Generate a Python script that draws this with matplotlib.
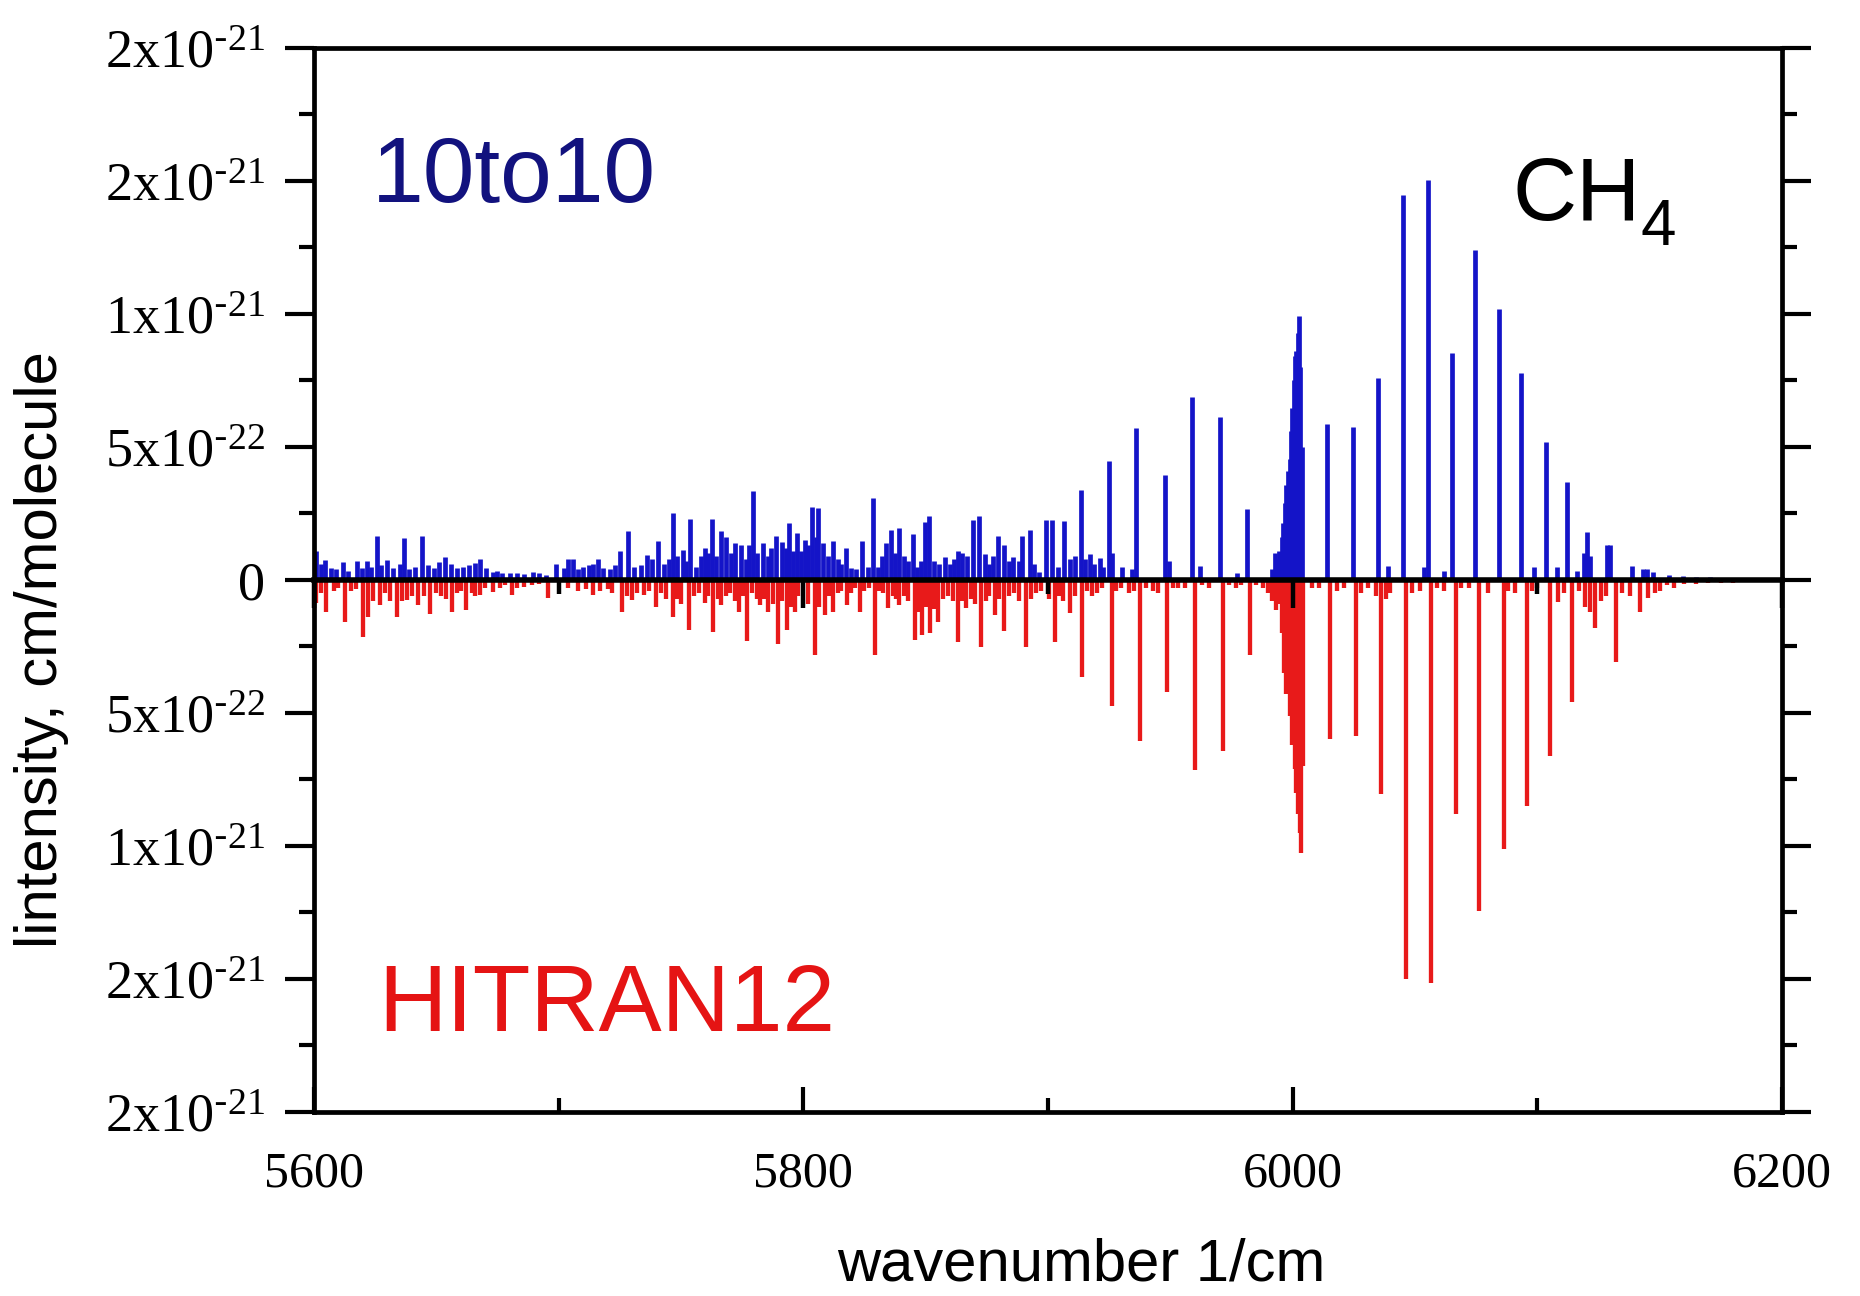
import matplotlib
matplotlib.use('Agg')
import matplotlib.pyplot as plt
from matplotlib.ticker import MultipleLocator, FixedLocator
import numpy as np

plt.rcParams['font.family'] = 'Liberation Serif'
plt.rcParams['mathtext.default'] = 'regular'

# line positions (1/cm) and intensities (1e-22 cm/molecule)
blue_wn = [5601, 5603, 5604.5, 5607, 5609, 5611.7, 5614, 5617.7, 5619.5, 5621.5, 5623.5, 5625.6, 5627.5, 5630,
           5632.5, 5635, 5636.8, 5639, 5641.5, 5644, 5646.5, 5649, 5651, 5653.5, 5656, 5658.5, 5661, 5663.5,
           5666, 5668, 5670.5, 5673, 5674.7, 5677, 5680, 5683, 5686, 5689.6, 5692, 5695, 5699, 5702, 5704,
           5706, 5708, 5710, 5712.5, 5714, 5716, 5718, 5721, 5723, 5725, 5728.4, 5731, 5733.5, 5736, 5738,
           5740.7, 5743, 5745, 5746.8, 5748.5, 5750.7, 5752, 5753.7, 5756, 5758, 5759.8, 5761, 5762.5,
           5764.5, 5766.2, 5768.6, 5770.5, 5772, 5774.4, 5776.5, 5778, 5779.3, 5781, 5783.6, 5785.5, 5787,
           5789, 5791.5, 5793, 5794.2, 5796, 5797.5, 5799, 5800.6, 5802, 5803.4, 5805, 5806.1, 5808, 5810,
           5812, 5814, 5815.5, 5817.3, 5819.5, 5821.5, 5824.2, 5826.5, 5828.6, 5830.5, 5832, 5834, 5835.8,
           5837.5, 5839, 5841, 5843, 5844.7, 5846.5, 5848, 5849.7, 5851.5, 5853.5, 5855.5, 5857.9, 5860,
           5861.5, 5863.3, 5865, 5867, 5869.4, 5871.9, 5874.2, 5876, 5877.5, 5879.4, 5882, 5884, 5885.8,
           5888, 5889.6, 5892.6, 5894.5, 5896.5, 5899.4, 5901.8, 5904, 5906.6, 5909, 5911, 5913.4, 5915,
           5917, 5919, 5921.2, 5922.5, 5924.9, 5926.3, 5930.4, 5934.4, 5936.1, 5947.7, 5949.4, 5959, 5962.3,
           5970.4, 5977.2, 5981.5,
           5991.5, 5992.7, 5993.5, 5994.5, 5995.5, 5996.1, 5996.8, 5997.5, 5998.2, 5998.8, 5999.4, 5999.9,
           6000.5, 6001, 6001.6, 6002.1, 6002.6, 6003.2, 6003.7,
           6014.2, 6024.7, 6034.9, 6038.9, 6045, 6053.8, 6055.2, 6062, 6065, 6074.7, 6084.4, 6093.4, 6098.6,
           6103.4, 6108, 6112.2, 6116.2, 6119, 6120.3, 6121.5, 6128.5, 6129.8, 6138.6, 6143.4, 6144.7,
           6147.5, 6154, 6159.6, 6165, 6170.5, 6177, 6184, 6191]
blue_int = [1.07, 0.6, 0.75, 0.45, 0.4, 0.69, 0.35, 0.72, 0.45, 0.72, 0.5, 1.67, 0.55, 0.75,
            0.45, 0.6, 1.57, 0.4, 0.5, 1.67, 0.55, 0.45, 0.69, 0.87, 0.6, 0.45, 0.5, 0.55,
            0.65, 0.79, 0.45, 0.3, 0.34, 0.25, 0.28, 0.25, 0.22, 0.31, 0.25, 0.2, 0.59, 0.45, 0.79,
            0.79, 0.4, 0.5, 0.55, 0.6, 0.78, 0.45, 0.4, 0.55, 1.09, 1.85, 0.5, 0.55, 0.94, 0.8,
            1.45, 0.6, 0.8, 2.52, 0.9, 1.13, 0.7, 2.30, 0.5, 0.9, 1.19, 1.0, 2.30,
            0.9, 1.85, 1.6, 1.0, 1.38, 1.32, 0.8, 1.3, 3.33, 1.0, 1.38, 0.9, 1.2,
            1.64, 1.42, 1.2, 2.14, 1.1, 1.76, 1.1, 1.51, 1.3, 2.73, 1.6, 2.70, 1.4, 0.9,
            1.47, 0.8, 0.6, 1.22, 0.45, 0.4, 1.47, 0.5, 3.08, 0.5, 0.9, 1.38, 1.89,
            1.0, 1.97, 0.9, 0.7, 1.72, 0.5, 0.7, 2.18, 2.39, 0.7, 0.6, 0.88, 0.6,
            0.8, 1.09, 1.0, 0.9, 2.26, 2.42, 0.97, 0.6, 0.9, 1.67, 1.32, 0.7, 0.88,
            0.7, 1.67, 1.89, 0.6, 0.3, 2.26, 2.26, 0.5, 2.23, 0.8, 0.9, 3.40, 0.8,
            0.97, 0.6, 0.84, 0.5, 4.47, 1.0, 0.47, 0.4, 5.71, 3.93, 0.73, 6.87, 0.53,
            6.13, 0.27, 2.67,
            0.4, 1.0, 0.8, 1.1, 1.6, 2.14, 2.9, 3.58, 4.1, 4.53, 5.6, 6.48,
            7.5, 8.43, 8.6, 9.3, 9.91, 8.0, 5.0,
            5.87, 5.76, 7.6, 0.53, 14.47, 0.47, 15.04, 0.33, 8.53, 12.4, 10.17, 7.78, 0.47,
            5.19, 0.47, 3.68, 0.33, 1.0, 1.82, 0.9, 1.3, 1.33, 0.53, 0.4, 0.4,
            0.3, 0.2, 0.15, 0.12, 0.1, 0.08, 0.06, 0.04]

red_wn = [5601, 5603, 5605, 5608, 5610, 5612.6, 5615, 5617, 5620, 5622, 5624, 5627, 5629, 5631, 5633.8,
          5636, 5638, 5640, 5642.5, 5645, 5647.4, 5650, 5652, 5654, 5656.3, 5658.5, 5660, 5662, 5664.5,
          5666, 5668, 5670, 5673, 5676, 5678, 5680.8, 5683, 5686, 5689, 5692, 5695.6, 5704, 5708, 5711,
          5714, 5717, 5720, 5722, 5726, 5728, 5730, 5732, 5735, 5737, 5739.8, 5742, 5744, 5746.6, 5748.5,
          5750, 5753.3, 5755.5, 5757.5, 5759.7, 5761, 5763.1,
          5765, 5766.5, 5768.5, 5770, 5772, 5773.7, 5775.5, 5777.2, 5779, 5781, 5782.5, 5784, 5785.7,
          5787.5, 5789.8, 5791.5, 5793.4, 5795, 5796.6, 5798, 5802, 5804.7, 5806.5, 5808.8, 5810.5, 5812,
          5814, 5815.5, 5817.7, 5819.5, 5821, 5823, 5825, 5827, 5829.3, 5831, 5832.5, 5834.6, 5836.5,
          5838, 5839.3, 5841, 5843, 5845.6, 5847, 5848.7, 5850.3, 5852, 5853.5, 5855.1, 5857, 5859, 5861,
          5863.3, 5865, 5866.7, 5868.5, 5870, 5872.6, 5874.5, 5876, 5878.3, 5880, 5882, 5884, 5886, 5888,
          5891, 5893, 5895, 5897, 5900.5, 5902.9, 5904.5, 5906, 5909, 5911,
          5914.1, 5916, 5918, 5920, 5922, 5926, 5928, 5930, 5933, 5935, 5937.6, 5940, 5943, 5945, 5948.7,
          5951, 5953, 5956, 5960.3, 5963, 5966, 5971.6, 5974, 5977, 5979, 5982.8, 5985, 5988, 5990,
          5991.5, 5993.4, 5994.5,
          5995.5, 5996.5, 5997.5, 5998.8, 5999.8, 6000.8, 6001.5, 6002.2, 6002.9, 6003.6, 6004.2,
          6008, 6011, 6015.2, 6018, 6021, 6025.8, 6028, 6031, 6034, 6036, 6038, 6040, 6046.5, 6049, 6052,
          6056.7, 6059, 6062, 6066.7, 6069, 6072, 6076.2, 6080, 6086.3, 6088, 6091, 6095.8, 6098, 6100,
          6105.4, 6108.5, 6111, 6114.4, 6117, 6119.5, 6121.5, 6123.5, 6126, 6128, 6132, 6134.5, 6138,
          6141.9, 6145.3, 6148, 6150, 6153, 6156, 6160, 6165, 6170, 6175, 6180, 6186, 6192]
red_int = [0.88, 0.5, 1.2, 0.4, 0.3, 1.57, 0.4, 0.35, 2.14, 1.4, 0.8, 0.94, 0.5, 0.8, 1.38,
           0.8, 0.75, 0.6, 0.94, 0.6, 1.28, 0.5, 0.6, 0.7, 1.19, 0.5, 0.4, 1.13, 0.5,
           0.6, 0.57, 0.3, 0.44, 0.3, 0.2, 0.57, 0.3, 0.25, 0.2, 0.15, 0.69, 0.3, 0.4, 0.35,
           0.57, 0.4, 0.35, 0.5, 1.22, 0.6, 0.75, 0.5, 0.57, 0.4, 1.0, 0.5, 0.7, 1.38, 0.7,
           0.9, 1.89, 0.6, 0.5, 0.88, 0.6, 1.95,
           0.7, 0.94, 0.6, 0.5, 0.8, 1.19, 0.6, 2.30, 0.5, 0.7, 0.94, 0.7, 1.19,
           0.9, 2.39, 0.8, 1.89, 1.0, 1.19, 0.6, 0.9, 2.83, 1.0, 1.32, 0.6, 1.19,
           0.5, 0.4, 0.94, 0.5, 0.3, 1.19, 0.4, 0.3, 2.83, 0.4, 0.5, 1.07, 0.6,
           0.7, 0.94, 0.6, 0.8, 2.26, 1.2, 2.08, 1.0, 2.01, 1.1, 1.57, 0.7, 0.6, 0.8,
           2.35, 0.8, 1.07, 0.7, 0.9, 2.52, 0.8, 0.6, 1.32, 0.7, 1.9, 0.6, 0.5, 0.8,
           2.52, 0.7, 0.5, 0.4, 0.7, 2.33, 0.6, 0.8, 1.26, 0.6,
           3.65, 0.4, 0.6, 0.5, 0.3, 4.72, 0.4, 0.3, 0.5, 0.4, 6.04, 0.3, 0.4, 0.5, 4.21,
           0.3, 0.3, 0.3, 7.13, 0.2, 0.3, 6.42, 0.2, 0.3, 0.2, 2.83, 0.2, 0.3, 0.5,
           0.8, 1.13, 0.9,
           2.0, 3.5, 4.3, 5.1, 6.2, 7.1, 8.0, 8.8, 9.5, 10.25, 7.0,
           0.3, 0.3, 5.97, 0.4, 0.3, 5.85, 0.5, 0.3, 0.6, 8.05, 0.7, 0.5, 15.0, 0.5, 0.4,
           15.16, 0.3, 0.4, 8.8, 0.3, 0.3, 12.45, 0.5, 10.1, 0.4, 0.5, 8.49, 0.4, 0.3,
           6.6, 0.82, 0.5, 4.59, 0.4, 1.0, 1.2, 1.82, 0.8, 0.6, 3.08, 0.5, 0.6,
           1.19, 0.69, 0.5, 0.4, 0.2, 0.3, 0.15, 0.15, 0.12, 0.1, 0.1, 0.06, 0.05]

ytick_values = [-2e-21, -1.5e-21, -1e-21, -5e-22, 0, 5e-22, 1e-21, 1.5e-21, 2e-21]
ytick_labels = ['2x10^{\\text{-}21}', '2x10^{\\text{-}21}', '1x10^{\\text{-}21}', '5x10^{\\text{-}22}', '0',
                '5x10^{\\text{-}22}', '1x10^{\\text{-}21}', '2x10^{\\text{-}21}', '2x10^{\\text{-}21}']
xtick_values = [5600, 5800, 6000, 6200]

blue = '#1414c8'
red = '#e81a1a'

fig = plt.figure(figsize=(18.6, 12.96), dpi=100)
ax = fig.add_axes([0.1688, 0.1420, 0.7892, 0.8210])

ax.vlines(blue_wn, 0, np.array(blue_int) * 1e-22, color=blue, lw=3.4)
ax.vlines(red_wn, 0, -np.array(red_int) * 1e-22, color=red, lw=3.1)

ax.set_xlim(5600, 6200)
ax.set_ylim(-2e-21, 2e-21)

ax.xaxis.set_major_locator(FixedLocator(xtick_values))
ax.xaxis.set_minor_locator(MultipleLocator(100))
ax.set_yticks(ytick_values)
ax.set_yticklabels(['$\\mathregular{%s}$' % s if s != '0' else '0' for s in ytick_labels])
ax.yaxis.set_minor_locator(MultipleLocator(2.5e-22))

ax.tick_params(axis='x', which='both', direction='in', top=True, width=3, labelsize=36, pad=28)
ax.tick_params(axis='x', which='major', length=18)
ax.tick_params(axis='x', which='minor', length=10)
ax.tick_params(axis='y', which='both', direction='out', right=True, width=3, labelsize=39, pad=14)
ax.tick_params(axis='y', which='major', length=21)
ax.tick_params(axis='y', which='minor', length=11)
for sp in ax.spines.values():
    sp.set_linewidth(3.4)

# zero line with its own downward ticks
ax0 = ax.twiny()
ax0.set_xlim(5600, 6200)
for side in ['top', 'left', 'right']:
    ax0.spines[side].set_visible(False)
ax0.spines['bottom'].set_position(('data', 0))
ax0.spines['bottom'].set_linewidth(4)
ax0.xaxis.tick_bottom()
ax0.xaxis.set_major_locator(FixedLocator(xtick_values))
ax0.xaxis.set_minor_locator(MultipleLocator(100))
ax0.tick_params(axis='x', which='both', direction='out', width=3.2, labelbottom=False, labeltop=False)
ax0.tick_params(axis='x', which='major', length=20)
ax0.tick_params(axis='x', which='minor', length=10)

ax.set_xlabel('wavenumber 1/cm', family='Liberation Sans', fontsize=43)
ax.xaxis.set_label_coords(0.5225, -0.118)
ax.set_ylabel('lintensity, cm/molecule', family='Liberation Sans', fontsize=43)
ax.yaxis.set_label_coords(-0.167, 0.435)

ax.text(0.0395, 0.855, '10to10', transform=ax.transAxes, family='Liberation Sans',
        fontsize=67, color='#12127e', va='baseline', ha='left')
ax.text(0.0436, 0.076, 'HITRAN12', transform=ax.transAxes, family='Liberation Sans',
        fontsize=68, color='#e51414', va='baseline', ha='left')
ax.text(0.8168, 0.838, 'CH', transform=ax.transAxes, family='Liberation Sans',
        fontsize=64, color='black', va='baseline', ha='left')
ax.text(0.9035, 0.815, '4', transform=ax.transAxes, family='Liberation Sans',
        fontsize=46, color='black', va='baseline', ha='left')

plt.savefig('out.png', dpi=100)
